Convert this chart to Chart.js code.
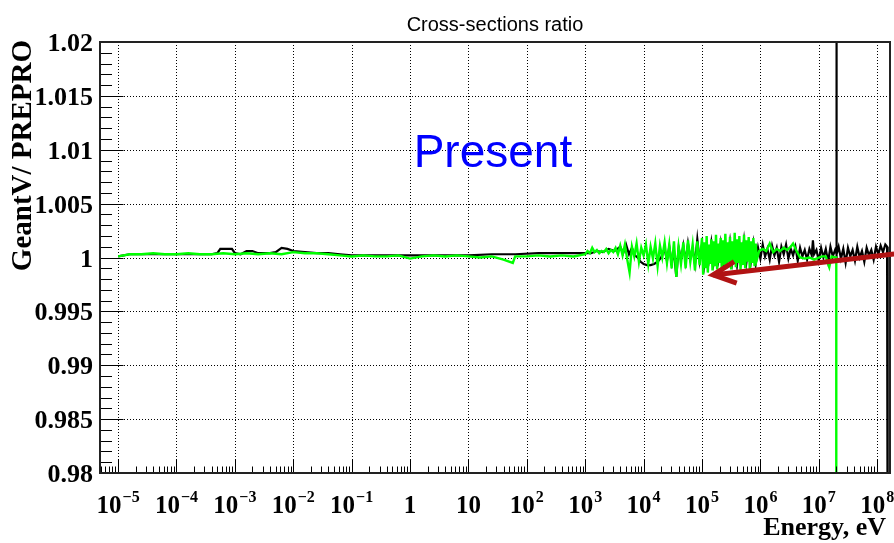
<!DOCTYPE html>
<html>
<head>
<meta charset="utf-8">
<title>Cross-sections ratio</title>
<script src="https://cdn.jsdelivr.net/npm/chart.js@4.4.1/dist/chart.umd.min.js"></script>
<style>
  html, body { margin: 0; padding: 0; background: #fff; }
  #wrap { width: 894px; height: 543px; }
</style>
</head>
<body>
<div id="wrap"><canvas id="ratio" width="894" height="543"></canvas></div>
<script>
// ---------------- dados: log10(E/eV) e razão GeantV/PREPRO ---------------- //
const greenLogE = [
  -5.0, -4.8, -4.6, -4.4, -4.2, -4.0, -3.8, -3.6, -3.4, -3.2, -3.0, -2.8, -2.6, -2.4, -2.2, -2.0,
  -1.8, -1.6, -1.4, -1.2, -1.0, -0.8, -0.6, -0.4, -0.2, 0.0, 0.2, 0.4, 0.6, 0.8, 1.0, 1.2,
  1.4, 1.6, 1.76, 1.8, 2.0, 2.2, 2.4, 2.6, 2.8, 3.0,
  3.04, 3.08, 3.12, 3.16, 3.20, 3.24, 3.28, 3.32, 3.36, 3.40, 3.44, 3.48, 3.52, 3.56, 3.60,
  3.64, 3.68, 3.72, 3.76, 3.80, 3.84, 3.88, 3.92, 3.96, 4.00, 4.04, 4.08, 4.12, 4.16, 4.20,
  4.24, 4.28, 4.32, 4.36, 4.40, 4.44, 4.48, 4.52, 4.56, 4.60, 4.64, 4.68, 4.72, 4.76, 4.80,
  4.84, 4.88, 4.92, 4.96,
  5.00, 5.02, 5.04, 5.06, 5.08, 5.10, 5.12, 5.14, 5.16, 5.18, 5.20, 5.22, 5.24, 5.26, 5.28,
  5.30, 5.32, 5.34, 5.36, 5.38, 5.40, 5.42, 5.44, 5.46, 5.48, 5.50, 5.52, 5.54, 5.56, 5.58,
  5.60, 5.62, 5.64, 5.66, 5.68, 5.70, 5.72, 5.74, 5.76, 5.78, 5.80, 5.82, 5.84, 5.86, 5.88,
  5.90, 5.92, 5.94,
  5.98, 6.04, 6.10, 6.16, 6.22, 6.28, 6.34, 6.40, 6.46, 6.52, 6.56, 6.62, 6.68, 6.76, 6.84,
  6.92, 7.00, 7.06, 7.12, 7.18, 7.22, 7.28, 7.30, 7.30
];
const greenRatio = [
  1.0001, 1.0003, 1.0003, 1.0004, 1.0003, 1.0003, 1.0004, 1.0003, 1.0003, 1.0004, 1.0003, 1.0004, 1.0003, 1.0004, 1.0003, 1.0005,
  1.0004, 1.0004, 1.0003, 1.0002, 1.0001, 1.0002, 1.0001, 1.0001, 1.0002, 0.9999, 1.0001, 1.0002, 1.0001, 1.0002, 1.0001, 1.0000,
  1.0001, 0.9998, 0.9995, 1.0001, 1.0001, 1.0002, 1.0001, 1.0002, 1.0001, 1.0003,
  1.0006, 1.0004, 1.0009, 1.0005, 1.0007, 1.0004, 1.0006, 1.0005, 1.0008, 1.0004, 1.0007, 1.0005, 1.0009, 1.0003, 1.0011,
  1.0002, 1.0012, 0.9998, 0.9986, 1.0010, 1.0001, 1.0013, 0.9996, 1.0009, 1.0002, 1.0012, 0.9994, 1.0010, 0.9999, 1.0013,
  0.9992, 1.0011, 1.0000, 1.0014, 0.9995, 1.0012, 0.9990, 1.0015, 0.9982, 1.0010, 0.9994, 1.0014, 0.9990, 1.0016, 0.9996,
  1.0012, 0.9988, 1.0015, 0.9993,
  1.0018, 0.9984, 1.0014, 0.9990, 1.0020, 0.9986, 1.0012, 0.9994, 1.0017, 0.9988, 1.0015, 0.9992, 1.0021, 0.9989, 1.0013,
  0.9995, 1.0018, 0.9987, 1.0016, 0.9993, 1.0022, 0.9990, 1.0014, 0.9996, 1.0019, 0.9989, 1.0015, 0.9994, 1.0023, 0.9991,
  1.0017, 0.9995, 1.0020, 0.9988, 1.0014, 0.9993, 1.0021, 0.9990, 1.0016, 0.9996, 1.0019, 0.9987, 1.0015, 0.9995, 1.0018,
  0.9992, 1.0013, 0.9998,
  1.0006, 1.0008, 1.0006, 1.0013, 1.0005, 1.0008, 1.0006, 1.0009, 1.0007, 1.0010, 1.0013, 1.0006, 1.0000, 0.9999, 1.0000,
  0.9998, 1.0000, 1.0001, 1.0001, 0.9991, 1.0001, 1.0000, 1.0000, 0.9700
];

const blackLogE = [
  -5.0, -4.8, -4.6, -4.4, -4.2, -4.0, -3.8, -3.6, -3.4, -3.3, -3.25, -3.05, -3.0, -2.9, -2.8, -2.7,
  -2.6, -2.4, -2.3, -2.2, -2.1, -2.0, -1.8, -1.6, -1.4, -1.2, -1.0, -0.6, -0.2, 0.2, 0.6, 1.0,
  1.4, 1.8, 2.2, 2.6, 3.0,
  3.1, 3.2, 3.3, 3.4, 3.5, 3.6, 3.65, 3.7, 3.75, 3.8, 3.85, 3.9,
  3.95, 4.0, 4.06, 4.12, 4.18, 4.24, 4.30,
  4.36, 4.40, 4.44, 4.48, 4.52, 4.56, 4.60, 4.64, 4.68, 4.72, 4.76, 4.80, 4.84, 4.88, 4.92, 4.96,
  5.00, 5.04, 5.08, 5.12, 5.16, 5.20, 5.24, 5.28, 5.32, 5.36, 5.40, 5.44, 5.48, 5.52, 5.56, 5.60,
  5.64, 5.68, 5.72, 5.76, 5.80, 5.84, 5.88, 5.92, 5.96, 6.00, 6.04, 6.08, 6.12, 6.16, 6.20, 6.24,
  6.28, 6.32, 6.36, 6.40, 6.44, 6.48, 6.52, 6.56, 6.60, 6.64, 6.68, 6.72, 6.76, 6.80, 6.84, 6.88,
  6.90, 6.92, 6.96, 7.00, 7.04, 7.08, 7.12, 7.16, 7.20, 7.24, 7.28, 7.30, 7.30, 7.31,
  7.34, 7.38, 7.42, 7.46, 7.50, 7.54, 7.58, 7.62, 7.66, 7.70, 7.74, 7.78, 7.82, 7.86, 7.90, 7.94,
  7.98, 8.02, 8.06, 8.10, 8.14, 8.17, 8.18
];
const blackRatio = [
  1.0001, 1.0003, 1.0003, 1.0003, 1.0003, 1.0003, 1.0003, 1.0003, 1.0003, 1.0004, 1.0008, 1.0008, 1.0004, 1.0003, 1.0006, 1.0006,
  1.0004, 1.0004, 1.0005, 1.0009, 1.0008, 1.0006, 1.0005, 1.0004, 1.0004, 1.0003, 1.0002, 1.0002, 1.0002, 1.0002, 1.0002, 1.0002,
  1.0003, 1.0003, 1.0004, 1.0004, 1.0004,
  1.0004, 1.0006, 1.0005, 1.0008, 1.0006, 1.0010, 1.0004, 1.0012, 1.0003, 1.0009, 1.0002, 1.0000,
  0.9996, 0.9994, 0.9993, 0.9993, 0.9994, 0.9996, 1.0000,
  1.0008, 0.9997, 1.0010, 0.9995, 1.0006, 0.9982, 1.0009, 0.9998, 1.0011, 0.9996, 1.0013, 0.9999, 1.0008, 0.9994, 1.0017, 0.9997,
  1.0012, 0.9993, 1.0010, 0.9998, 1.0014, 0.9995, 1.0009, 0.9997, 1.0013, 0.9994, 1.0010, 0.9999, 1.0015, 0.9996, 1.0011, 0.9993,
  1.0012, 0.9998, 1.0016, 0.9995, 1.0010, 0.9997, 1.0013, 0.9994, 1.0009, 0.9999, 1.0012, 1.0001, 1.0008, 0.9998, 1.0011, 1.0002,
  1.0009, 0.9996, 1.0010, 1.0003, 1.0012, 0.9999, 1.0008, 1.0002, 1.0010, 0.9997, 1.0009, 1.0001, 1.0007, 0.9998, 1.0008, 1.0002,
  1.0016, 1.0003, 1.0007, 0.9997, 1.0009, 1.0000, 1.0008, 0.9996, 1.0010, 1.0001, 1.0007, 1.0004, 1.0300, 1.0003,
  1.0010, 0.9999, 1.0008, 0.9995, 1.0009, 1.0001, 1.0007, 0.9997, 1.0010, 1.0000, 1.0006, 0.9996, 1.0009, 1.0002, 1.0007, 0.9998,
  1.0010, 1.0003, 1.0011, 1.0005, 1.0012, 1.0010, 0.9700
];

// eixos
const xDecades = [-5, -4, -3, -2, -1, 0, 1, 2, 3, 4, 5, 6, 7, 8];
const yTickValues = [1.02, 1.015, 1.01, 1.005, 1, 0.995, 0.99, 0.985, 0.98];
const yTickLabels = ['1.02', '1.015', '1.01', '1.005', '1', '0.995', '0.99', '0.985', '0.98'];

const X_MIN = Math.pow(10, -5.31);
const X_MAX = Math.pow(10, 8.22);

// anotações
const presentAt = [Math.pow(10, 1.42), 1.0084];
const arrowTail = [Math.pow(10, 8.29), 1.00032];
const arrowTip = [Math.pow(10, 5.19), 0.99838];

const SERIF = '"Liberation Serif", "Times New Roman", serif';
const SANS = '"Liberation Sans", Arial, sans-serif';

const toPoints = (logE, r) => logE.map((e, i) => ({ x: Math.pow(10, e), y: r[i] }));

// ---------------- moldura estilo ROOT: grelha pontilhada, ticks internos, rótulos ---------------- //
const rootFrame = {
  id: 'rootFrame',
  beforeDatasetsDraw(chart) {
    const { ctx, chartArea: a, scales: { x, y } } = chart;
    ctx.save();
    ctx.strokeStyle = '#000';
    ctx.lineWidth = 1;
    ctx.setLineDash([1, 2]);
    ctx.beginPath();
    xDecades.forEach(d => {
      const px = Math.round(x.getPixelForValue(Math.pow(10, d))) + 0.5;
      ctx.moveTo(px, a.top); ctx.lineTo(px, a.bottom);
    });
    yTickValues.forEach(v => {
      const py = Math.round(y.getPixelForValue(v)) + 0.5;
      ctx.moveTo(a.left, py); ctx.lineTo(a.right, py);
    });
    ctx.stroke();
    ctx.restore();
  },
  afterDatasetsDraw(chart) {
    const { ctx, chartArea: a, scales: { x, y } } = chart;
    ctx.save();
    ctx.strokeStyle = '#000';
    ctx.lineWidth = 1;
    ctx.beginPath();
    // ticks do eixo x (log): década = 13px, menores = 6.5px
    for (let d = -6; d <= 8; d++) {
      for (let m = 1; m <= 9; m++) {
        const v = m * Math.pow(10, d);
        if (v < X_MIN || v > X_MAX) continue;
        const px = Math.round(x.getPixelForValue(v)) + 0.5;
        ctx.moveTo(px, a.bottom);
        ctx.lineTo(px, a.bottom - (m === 1 ? 13 : 6.5));
      }
    }
    // ticks do eixo y: 0.005 maiores, 0.001 menores
    for (let i = 0; i <= 40; i++) {
      const py = Math.round(y.getPixelForValue(0.98 + i * 0.001)) + 0.5;
      ctx.moveTo(a.left, py);
      ctx.lineTo(a.left + (i % 5 === 0 ? 23.5 : 12), py);
    }
    ctx.stroke();
    ctx.lineWidth = 2;
    ctx.strokeStyle = '#222';
    ctx.strokeRect(a.left, a.top, a.right - a.left, a.bottom - a.top);
    ctx.restore();
  },
  afterDraw(chart) {
    const { ctx, chartArea: a, scales: { x, y } } = chart;
    ctx.save();
    ctx.fillStyle = '#000';

    // rótulos y
    ctx.font = 'bold 26px ' + SERIF;
    ctx.textAlign = 'right';
    ctx.textBaseline = 'alphabetic';
    yTickValues.forEach((v, i) => {
      ctx.fillText(yTickLabels[i], 93, y.getPixelForValue(v) + 9);
    });

    // rótulos x com expoente
    const baseFont = 'bold 25px ' + SERIF;
    const supFont = 'bold 16px ' + SERIF;
    xDecades.forEach(d => {
      const px = x.getPixelForValue(Math.pow(10, d));
      const base = d === 0 ? '1' : '10';
      const sup = (d === 0 || d === 1) ? '' : String(d).replace('-', '\u2212');
      ctx.font = baseFont;
      const wb = ctx.measureText(base).width;
      ctx.font = supFont;
      const ws = sup ? ctx.measureText(sup).width + 1 : 0;
      const x0 = px - (wb + ws) / 2;
      ctx.textAlign = 'left';
      ctx.font = baseFont;
      ctx.fillText(base, x0, 513);
      if (sup) {
        ctx.font = supFont;
        ctx.fillText(sup, x0 + wb + 1, 502);
      }
    });

    // títulos dos eixos
    ctx.font = 'bold 26px ' + SERIF;
    ctx.textAlign = 'right';
    ctx.fillText('Energy, eV', 886, 535);

    ctx.save();
    ctx.translate(31, 40);
    ctx.rotate(-Math.PI / 2);
    ctx.font = 'bold 29px ' + SERIF;
    ctx.textAlign = 'right';
    ctx.fillText('GeantV/ PREPRO', 0, 0);
    ctx.restore();

    // título
    ctx.font = '20px ' + SANS;
    ctx.textAlign = 'center';
    ctx.fillText('Cross-sections ratio', (a.left + a.right) / 2, 31);

    // "Present"
    ctx.fillStyle = '#0000ff';
    ctx.font = '46px ' + SANS;
    ctx.fillText('Present', x.getPixelForValue(presentAt[0]), y.getPixelForValue(presentAt[1]));

    // seta vermelha
    const tx = x.getPixelForValue(arrowTail[0]), ty = y.getPixelForValue(arrowTail[1]);
    const hx = x.getPixelForValue(arrowTip[0]), hy = y.getPixelForValue(arrowTip[1]);
    const ang = Math.atan2(ty - hy, tx - hx);
    const arm = 25, spread = 0.45;
    ctx.strokeStyle = '#b11313';
    ctx.lineWidth = 5;
    ctx.lineJoin = 'miter';
    ctx.beginPath();
    ctx.moveTo(tx, ty);
    ctx.lineTo(hx, hy);
    ctx.stroke();
    ctx.beginPath();
    ctx.moveTo(hx + arm * Math.cos(ang - spread), hy + arm * Math.sin(ang - spread));
    ctx.lineTo(hx, hy);
    ctx.lineTo(hx + arm * Math.cos(ang + spread), hy + arm * Math.sin(ang + spread));
    ctx.stroke();
    ctx.restore();
  }
};

new Chart(document.getElementById('ratio'), {
  type: 'line',
  data: {
    datasets: [
      {
        label: 'Present',
        data: toPoints(greenLogE, greenRatio),
        borderColor: '#00ff00',
        borderWidth: 2.4,
        pointRadius: 0,
        tension: 0
      },
      {
        label: 'GeantV',
        data: toPoints(blackLogE, blackRatio),
        borderColor: '#000',
        borderWidth: 2.2,
        pointRadius: 0,
        tension: 0
      }
    ]
  },
  options: {
    responsive: false,
    animation: false,
    layout: { padding: { top: 42, right: 4, left: 0, bottom: 0 } },
    plugins: { legend: { display: false }, tooltip: { enabled: false }, title: { display: false } },
    scales: {
      x: {
        type: 'logarithmic', min: X_MIN, max: X_MAX,
        grid: { display: false }, border: { display: false },
        ticks: { display: false },
        afterFit: s => { s.height = 70; }
      },
      y: {
        min: 0.98, max: 1.02,
        grid: { display: false }, border: { display: false },
        ticks: { display: false },
        afterFit: s => { s.width = 100; }
      }
    }
  },
  plugins: [rootFrame]
});
</script>
</body>
</html>
